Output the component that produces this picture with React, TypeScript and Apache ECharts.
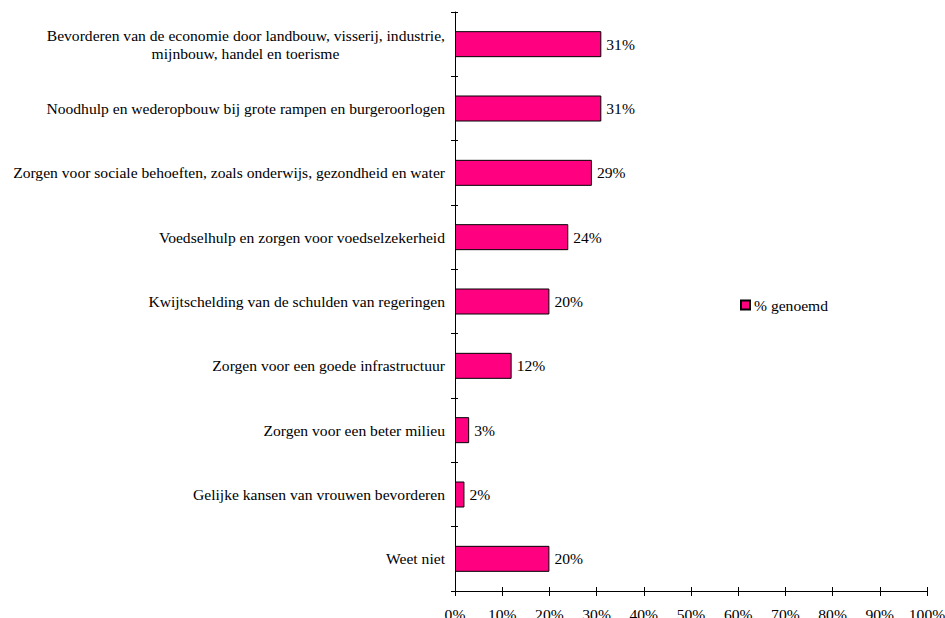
import React, { useEffect, useRef } from "react";
import * as echarts from "echarts";

const categories = [
  "Bevorderen van de economie door landbouw, visserij, industrie,\nmijnbouw, handel en toerisme",
  "Noodhulp en wederopbouw bij grote rampen en burgeroorlogen",
  "Zorgen voor sociale behoeften, zoals onderwijs, gezondheid en water",
  "Voedselhulp en zorgen voor voedselzekerheid",
  "Kwijtschelding van de schulden van regeringen",
  "Zorgen voor een goede infrastructuur",
  "Zorgen voor een beter milieu",
  "Gelijke kansen van vrouwen bevorderen",
  "Weet niet",
];
const values = [31, 31, 29, 24, 20, 12, 3, 2, 20];
const seriesName = "% genoemd";
const xMin = 0;
const xMax = 100;
const xStep = 10;

const FONT = "Liberation Serif";
const FS = 15.6;

function measure(text: string): number {
  const c = document.createElement("canvas");
  const ctx = c.getContext("2d");
  if (!ctx) return 400;
  ctx.font = FS + "px " + FONT;
  return Math.ceil(ctx.measureText(text).width);
}

export default function App() {
  const ref = useRef<HTMLDivElement>(null);
  useEffect(() => {
    document.body.style.margin = "0";
    if (!ref.current) return;
    const chart = echarts.init(ref.current, undefined, { renderer: "svg" });
    const gridPos = {
      left: 455,
      right: 18,
      top: 12,
      bottom: 27,
      containLabel: false,
      outerBoundsMode: "none",
    };
    const firstLine = categories[0].split("\n")[0];
    const w1 = measure(firstLine);
    const labelFormatter = (v: string) => {
      const parts = v.split("\n");
      if (parts.length === 1) return v;
      return "{a|" + parts[0] + "}\n{b|" + parts[1] + "}";
    };
    chart.setOption({
      animation: false,
      backgroundColor: "#ffffff",
      textStyle: { fontFamily: FONT, color: "#000" },
      grid: [gridPos, gridPos],
      legend: {
        data: [seriesName],
        left: 740,
        top: 297,
        padding: 0,
        icon: "rect",
        itemWidth: 9,
        itemHeight: 9,
        itemGap: 4,
        textStyle: { fontFamily: FONT, fontSize: FS, color: "#000", padding: [0, 0, 0, -1] },
      },
      xAxis: [
        {
          type: "value",
          gridIndex: 0,
          min: xMin,
          max: xMax,
          interval: xStep,
          axisLine: { show: true, lineStyle: { color: "#000", width: 1 } },
          axisTick: { show: true, length: 5, lineStyle: { color: "#000" } },
          axisLabel: {
            formatter: "{value}%",
            fontFamily: FONT,
            fontSize: FS,
            color: "#000",
            margin: 15,
          },
          splitLine: { show: false },
        },
        {
          type: "value",
          gridIndex: 1,
          min: xMin,
          max: xMax,
          interval: xStep,
          position: "bottom",
          axisLine: { show: false },
          axisTick: { show: true, inside: true, length: 4, lineStyle: { color: "#000" } },
          axisLabel: { show: false },
          splitLine: { show: false },
        },
      ],
      yAxis: [
        {
          type: "category",
          gridIndex: 0,
          inverse: true,
          data: categories,
          axisLine: { show: true, lineStyle: { color: "#000", width: 1 } },
          axisTick: { show: true, length: 4, lineStyle: { color: "#000" } },
          axisLabel: {
            fontFamily: FONT,
            fontSize: FS,
            color: "#000",
            margin: 10,
            lineHeight: 18,
            formatter: labelFormatter,
            rich: {
              a: { fontFamily: FONT, fontSize: FS, color: "#000", lineHeight: 18 },
              b: { fontFamily: FONT, fontSize: FS, color: "#000", lineHeight: 18, width: w1, align: "center" },
            },
          },
        },
        {
          type: "category",
          gridIndex: 1,
          inverse: true,
          data: categories,
          position: "left",
          axisLine: { show: false },
          axisTick: { show: true, inside: true, length: 3, lineStyle: { color: "#000" } },
          axisLabel: { show: false },
        },
      ],
      series: [
        {
          name: seriesName,
          type: "bar",
          xAxisIndex: 0,
          yAxisIndex: 0,
          data: values,
          barWidth: 26,
          itemStyle: { color: "#FF0080", borderColor: "#000", borderWidth: 1 },
          label: {
            show: true,
            position: "right",
            distance: 5,
            formatter: "{c}%",
            fontFamily: FONT,
            fontSize: FS,
            color: "#000",
          },
        },
      ],
    });
    return () => chart.dispose();
  }, []);
  return <div ref={ref} style={{ width: 945, height: 618 }} />;
}
